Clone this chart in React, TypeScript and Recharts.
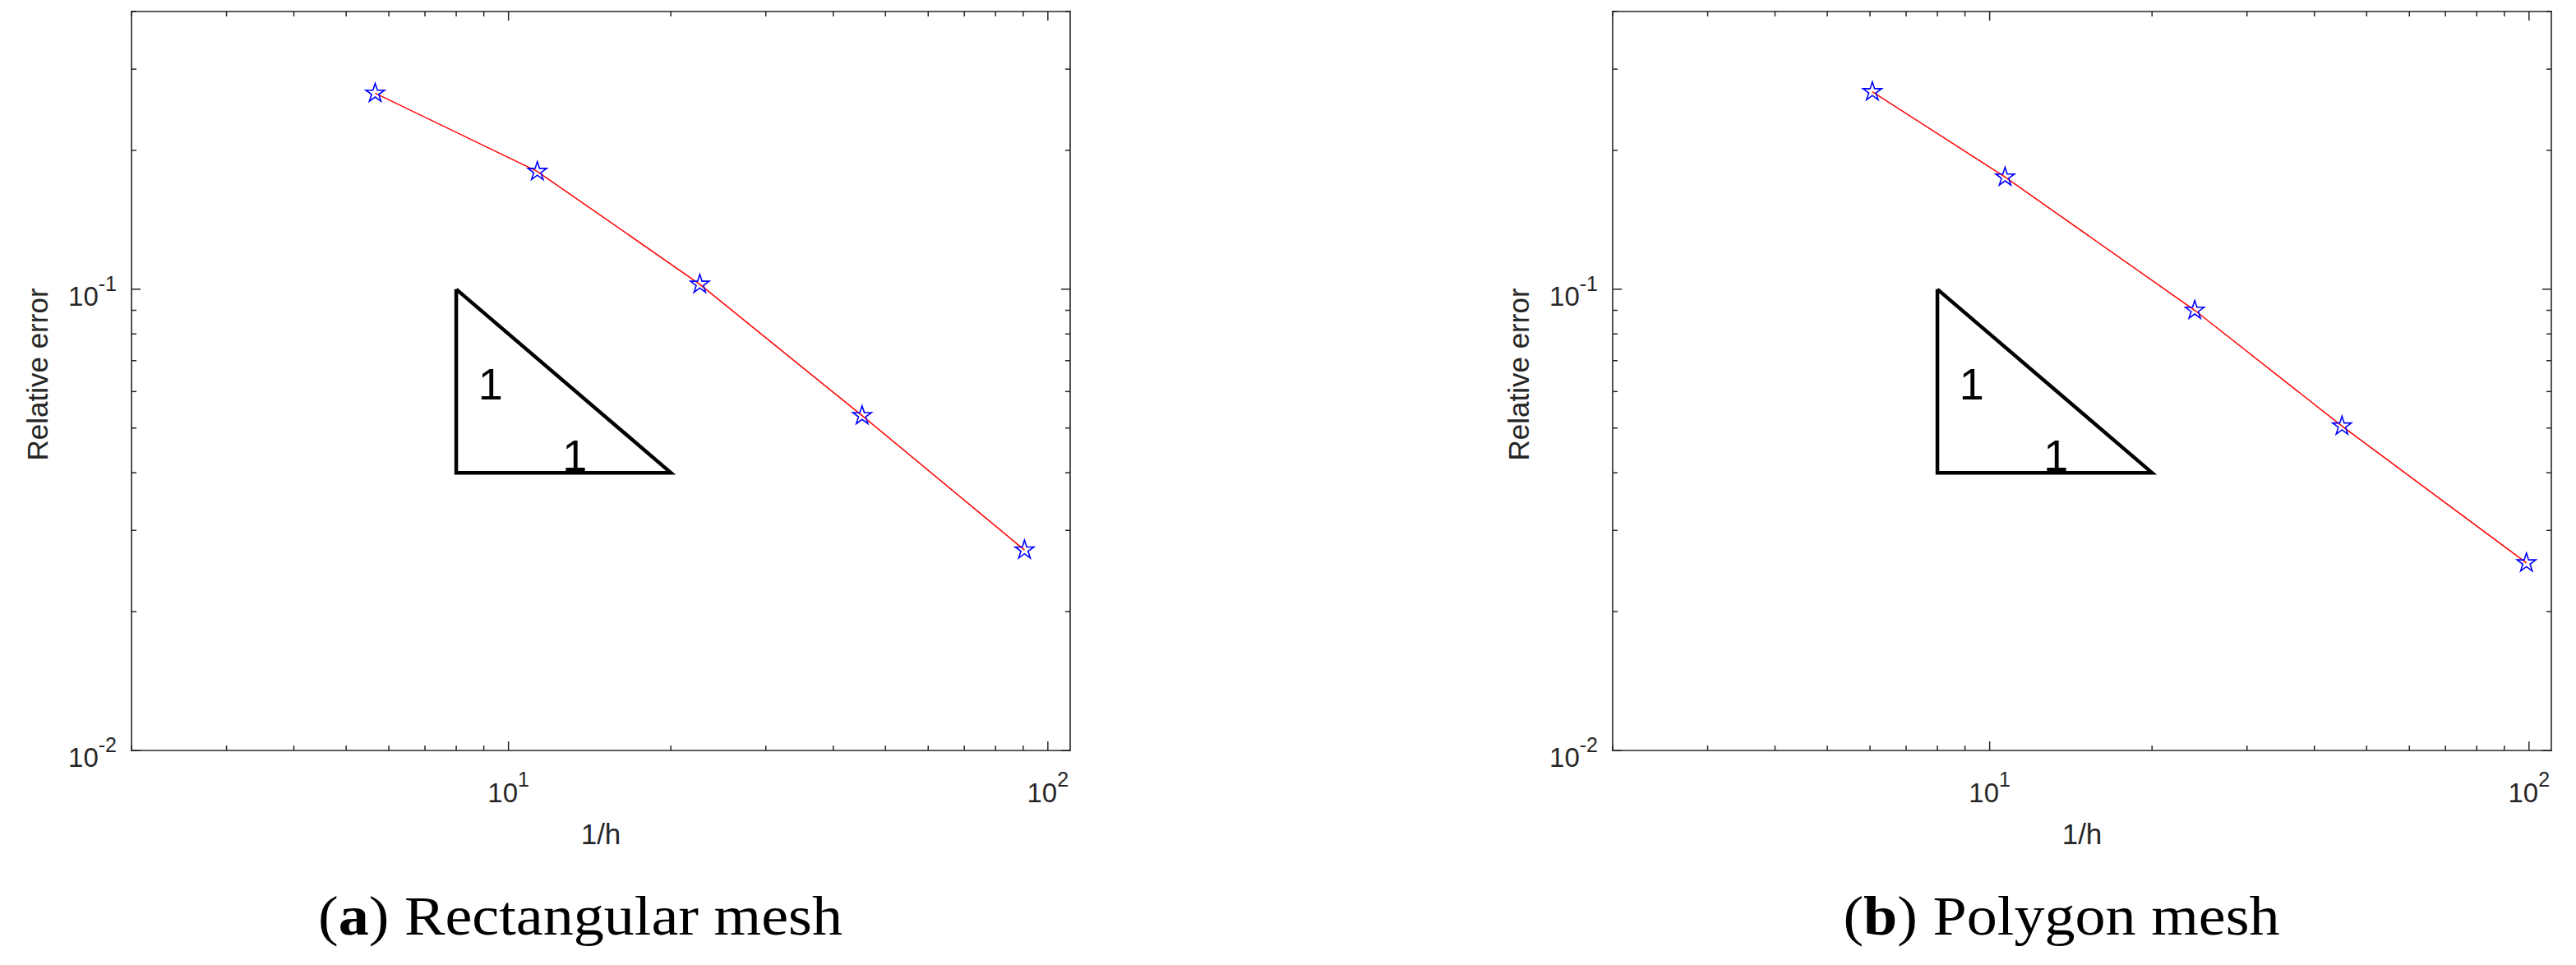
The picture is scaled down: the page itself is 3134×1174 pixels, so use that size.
import React from 'react';
import { LineChart, Line, XAxis, YAxis, ReferenceDot } from 'recharts';

// Convergence plots: relative error against 1/h on log-log axes,
// with a slope-1 reference triangle in each panel.

const rectInvH = [5.66, 11.31, 22.63, 45.25, 90.51];
const rectError = [0.266, 0.18, 0.1025, 0.0532, 0.0272];

const polyInvH = [6.06, 10.68, 24.0, 45.0, 98.9];
const polyError = [0.268, 0.175, 0.09, 0.0505, 0.0255];

const slopeX = [8, 8, 20, 8];
const slopeY = [0.1, 0.04, 0.04, 0.1];
const slopeLabelX = [9.26, 13.27];
const slopeLabelY = [0.0625, 0.0436];

const xTicks = [2, 3, 4, 5, 6, 7, 8, 9, 10, 20, 30, 40, 50, 60, 70, 80, 90, 100];
const yTicks = [
  0.01, 0.02, 0.03, 0.04, 0.05, 0.06, 0.07, 0.08, 0.09, 0.1, 0.2, 0.3, 0.4,
];
const xDomain: [number, number] = [2, 110];
const yDomain: [number, number] = [0.01, 0.4];

const panels = [
  { tag: 'a', title: 'Rectangular mesh', xs: rectInvH, ys: rectError, left: 0 },
  { tag: 'b', title: 'Polygon mesh', xs: polyInvH, ys: polyError, left: 1802 },
];

const AXIS = '#262626';
const SANS = '"Liberation Sans", Arial, Helvetica, sans-serif';
const SERIF = '"Liberation Serif", "Times New Roman", serif';
const MAJOR = 11;
const MINOR = 6;

const toRows = (xs: number[], ys: number[]) => xs.map((x, i) => ({ x, y: ys[i] }));

function isMajor(v: number) {
  const l = Math.log10(v);
  return Math.abs(l - Math.round(l)) < 1e-6;
}

function BottomTick({ x, y, payload }: any) {
  const v = payload.value;
  const major = isMajor(v);
  return (
    <g>
      <line x1={x} x2={x} y1={y} y2={y - (major ? MAJOR : MINOR)} stroke={AXIS} strokeWidth={1.5} />
      {major && (
        <text x={x} y={y + 63} textAnchor="middle" fontSize={33} fill={AXIS} fontFamily={SANS}>
          10
          <tspan dy={-19} fontSize={25}>
            {Math.round(Math.log10(v))}
          </tspan>
        </text>
      )}
    </g>
  );
}

function TopTick({ x, y, payload }: any) {
  const major = isMajor(payload.value);
  return <line x1={x} x2={x} y1={y} y2={y + (major ? MAJOR : MINOR)} stroke={AXIS} strokeWidth={1.5} />;
}

function LeftTick({ x, y, payload }: any) {
  const v = payload.value;
  const major = isMajor(v);
  return (
    <g>
      <line x1={x} x2={x + (major ? MAJOR : MINOR)} y1={y} y2={y} stroke={AXIS} strokeWidth={1.5} />
      {major && (
        <text x={x - 18} y={y + 20} textAnchor="end" fontSize={33} fill={AXIS} fontFamily={SANS}>
          10
          <tspan dy={-18} fontSize={25}>
            {String(Math.round(Math.log10(v)))}
          </tspan>
        </text>
      )}
    </g>
  );
}

function RightTick({ x, y, payload }: any) {
  const major = isMajor(payload.value);
  return <line x1={x} x2={x - (major ? MAJOR : MINOR)} y1={y} y2={y} stroke={AXIS} strokeWidth={1.5} />;
}

function YTitle(props: any) {
  const vb = props.viewBox || { x: 0, y: 14, width: 160, height: 899 };
  const cx = vb.x + 58;
  const cy = vb.y + vb.height / 2 - 8;
  return (
    <text
      x={cx}
      y={cy}
      transform={`rotate(-90 ${cx} ${cy})`}
      textAnchor="middle"
      fontSize={35}
      fill={AXIS}
      fontFamily={SANS}
    >
      Relative error
    </text>
  );
}

function XTitle(props: any) {
  const vb = props.viewBox || { x: 160, y: 913, width: 1142, height: 147 };
  return (
    <text x={vb.x + vb.width / 2} y={vb.y + 114} textAnchor="middle" fontSize={35} fill={AXIS} fontFamily={SANS}>
      1/h
    </text>
  );
}

function Star(props: any) {
  const { cx, cy, index } = props;
  if (cx == null || cy == null) return <g key={`s-${index}`} />;
  const R = 12;
  const r = R * 0.382;
  const pts: string[] = [];
  for (let i = 0; i < 10; i++) {
    const a = -Math.PI / 2 + (i * Math.PI) / 5;
    const rad = i % 2 === 0 ? R : r;
    pts.push(`${(cx + rad * Math.cos(a)).toFixed(2)},${(cy + rad * Math.sin(a)).toFixed(2)}`);
  }
  return <polygon key={`s-${index}`} points={pts.join(' ')} fill="none" stroke="#0000ff" strokeWidth={1.6} />;
}

const axisLine = { stroke: AXIS, strokeWidth: 1.6, strokeLinecap: 'square' as const };

function Panel({ xs, ys, left }: { xs: number[]; ys: number[]; left: number }) {
  const rows = toRows(xs, ys);
  const tri = toRows(slopeX, slopeY);
  return (
    <div style={{ position: 'absolute', left, top: 0 }}>
      <LineChart width={1330} height={1060} margin={{ top: 13, right: 27, bottom: 0, left: 0 }}>
        <XAxis
          xAxisId="bottom"
          dataKey="x"
          type="number"
          scale="log"
          domain={xDomain}
          allowDataOverflow
          ticks={xTicks}
          interval={0}
          height={147}
          tickSize={0}
          tickMargin={0}
          tickLine={false}
          axisLine={axisLine}
          tick={BottomTick}
          label={<XTitle />}
        />
        <XAxis
          xAxisId="top"
          orientation="top"
          dataKey="x"
          type="number"
          scale="log"
          domain={xDomain}
          allowDataOverflow
          ticks={xTicks}
          interval={0}
          height={1}
          tickSize={0}
          tickMargin={0}
          tickLine={false}
          axisLine={axisLine}
          tick={TopTick}
        />
        <YAxis
          yAxisId="left"
          type="number"
          scale="log"
          domain={yDomain}
          allowDataOverflow
          ticks={yTicks}
          interval={0}
          width={160}
          tickSize={0}
          tickMargin={0}
          tickLine={false}
          axisLine={axisLine}
          tick={LeftTick}
          label={<YTitle />}
        />
        <YAxis
          yAxisId="right"
          orientation="right"
          type="number"
          scale="log"
          domain={yDomain}
          allowDataOverflow
          ticks={yTicks}
          interval={0}
          width={1}
          tickSize={0}
          tickMargin={0}
          tickLine={false}
          axisLine={axisLine}
          tick={RightTick}
        />
        <Line
          xAxisId="bottom"
          yAxisId="left"
          data={tri}
          dataKey="y"
          type="linear"
          stroke="#000000"
          strokeWidth={4.5}
          strokeLinejoin="miter"
          dot={false}
          activeDot={false}
          isAnimationActive={false}
        />
        <Line
          xAxisId="bottom"
          yAxisId="left"
          data={rows}
          dataKey="y"
          type="linear"
          stroke="#ff0000"
          strokeWidth={1.5}
          dot={Star}
          activeDot={false}
          isAnimationActive={false}
        />
        {slopeLabelX.map((x, i) => (
          <ReferenceDot
            key={`lbl-${i}`}
            xAxisId="bottom"
            yAxisId="left"
            x={x}
            y={slopeLabelY[i]}
            r={0}
            stroke="none"
            fill="none"
            label={{ value: '1', position: 'center', fontSize: 54, fill: '#000000', fontFamily: SANS }}
          />
        ))}
      </LineChart>
    </div>
  );
}

export default function App() {
  return (
    <div
      style={{
        position: 'absolute',
        left: 0,
        top: 0,
        width: 3134,
        height: 1174,
        background: '#ffffff',
        overflow: 'hidden',
      }}
    >
      {panels.map((p) => (
        <Panel key={p.tag} xs={p.xs} ys={p.ys} left={p.left} />
      ))}
      <svg width={3134} height={1174} style={{ position: 'absolute', left: 0, top: 0, pointerEvents: 'none' }}>
        {panels.map((p) => (
          <text
            key={p.tag}
            transform={`translate(${p.left + 706} 1137) scale(1.09 1)`}
            textAnchor="middle"
            fontSize={68}
            fill="#000000"
            fontFamily={SERIF}
          >
            (<tspan fontWeight="bold">{p.tag}</tspan>) {p.title}
          </text>
        ))}
      </svg>
    </div>
  );
}
